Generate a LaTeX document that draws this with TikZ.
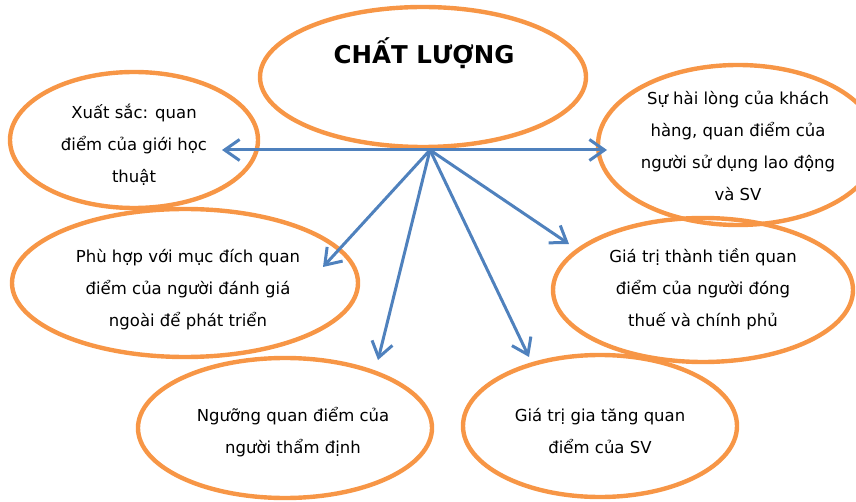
\documentclass[tikz,border=0pt]{standalone}
\usepackage{fontspec}
\setmainfont{DejaVu Sans}
\usetikzlibrary{shapes.geometric,arrows.meta}
\definecolor{orng}{HTML}{F79646}
\definecolor{blu}{HTML}{4F81BD}
\begin{document}
\begin{tikzpicture}[x=1pt,y=-1pt,
  oval/.style={draw=orng,line width=4.4pt,ellipse,inner sep=0pt},
  lbl/.style={align=center,font=\fontsize{16.5}{32}\selectfont,text=black},
  conn/.style={draw=blu,line width=3pt,-{Straight Barb[length=15pt,width=21pt]}}]
\useasboundingbox (0,0) rectangle (856,502);
% ellipses
\node[oval,minimum width=326pt,minimum height=140pt] (e1) at (423,77) {};
\node[oval,minimum width=248pt,minimum height=136pt] (e2) at (134,140) {};
\node[oval,minimum width=280pt,minimum height=160pt] (e3) at (738,145) {};
\node[oval,minimum width=346pt,minimum height=148pt] (e4) at (185,283) {};
\node[oval,minimum width=300pt,minimum height=144pt] (e5) at (703,290) {};
\node[oval,minimum width=294pt,minimum height=140pt] (e6) at (285,428) {};
\node[oval,minimum width=274pt,minimum height=142pt] (e7) at (600,426) {};
% texts
\node[font=\fontsize{24.5}{28}\selectfont\bfseries] (t1) at (424,53) {CHẤT LƯỢNG};
\node[lbl] (t2) at (134,145) {Xuất sắc: quan\\điểm của giới học\\thuật};
\node[lbl] (t3) at (738,146) {Sự hài lòng của khách\\hàng, quan điểm của\\người sử dụng lao động\\và SV};
\node[lbl] (t4) at (188,290) {Phù hợp với mục đích quan\\điểm của người đánh giá\\ngoài để phát triển};
\node[lbl] (t5) at (703,289) {Giá trị thành tiền quan\\điểm của người đóng\\thuế và chính phủ};
\node[lbl] (t6) at (293,432) {Ngưỡng quan điểm của\\người thẩm định};
\node[lbl] (t7) at (600,431) {Giá trị gia tăng quan\\điểm của SV};
% connectors
\coordinate (hub) at (430,150);
\coordinate (a2) at (222,150);
\coordinate (a3) at (607,150);
\coordinate (a4) at (323,267);
\coordinate (a5) at (569,244);
\coordinate (a6) at (378,360);
\coordinate (a7) at (529,357);
\draw[conn] (hub) -- (a2);
\draw[conn] (hub) -- (a3);
\draw[conn] (hub) -- (a4);
\draw[conn] (hub) -- (a5);
\draw[conn] (hub) -- (a6);
\draw[conn] (hub) -- (a7);
\end{tikzpicture}
\end{document}
